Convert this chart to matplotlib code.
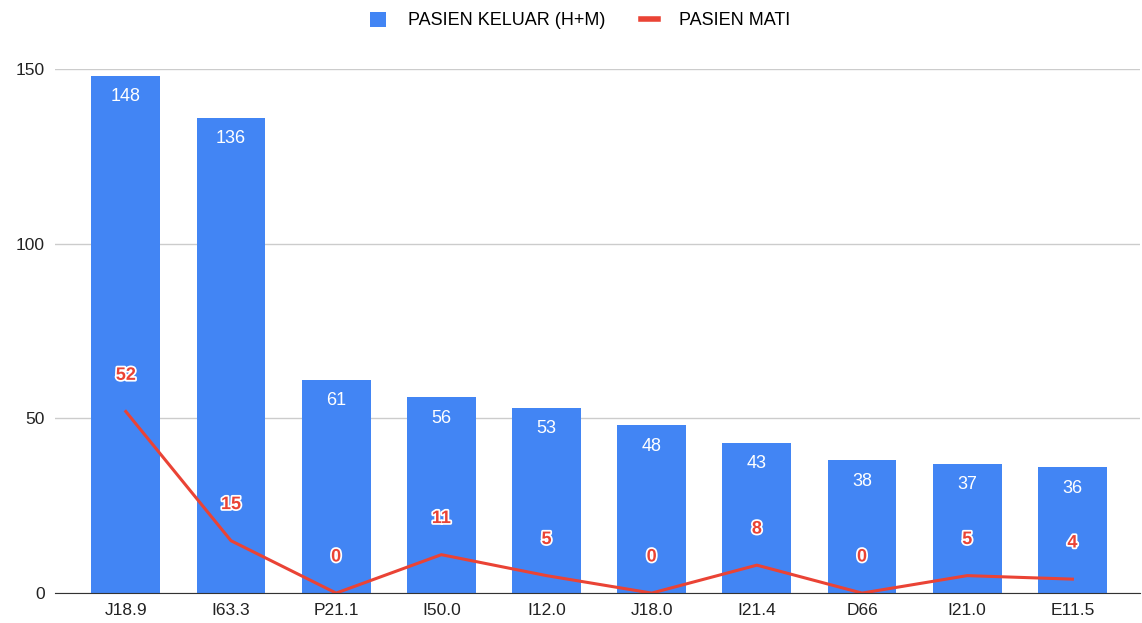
import matplotlib.pyplot as plt
import matplotlib.patheffects as pe
from matplotlib.lines import Line2D
from matplotlib.patches import Patch

plt.rcParams['font.family'] = ['Liberation Sans', 'DejaVu Sans']

kode = ['J18.9', 'I63.3', 'P21.1', 'I50.0', 'I12.0', 'J18.0', 'I21.4', 'D66', 'I21.0', 'E11.5']
keluar = [148, 136, 61, 56, 53, 48, 43, 38, 37, 36]
mati = [52, 15, 0, 11, 5, 0, 8, 0, 5, 4]

blue = '#4285F4'
red = '#EA4335'

fig = plt.figure(figsize=(11.42, 6.23), dpi=100)
ax = fig.add_axes([0.048, 0.048, 0.95, 0.841])

x = list(range(len(kode)))
ax.bar(x, keluar, width=0.655, color=blue, zorder=2)
ax.plot(x, mati, color=red, linewidth=2.2, zorder=3)

for xi, v in zip(x, keluar):
    ax.annotate(str(v), (xi, v), xytext=(0, -15), textcoords='offset points',
                ha='center', va='center', color='white', fontsize=13, zorder=4)

for xi, v in zip(x, mati):
    ax.annotate(str(v), (xi, v), xytext=(0, 26), textcoords='offset points',
                ha='center', va='center', color=red, fontsize=13, fontweight='bold',
                zorder=5, path_effects=[pe.withStroke(linewidth=2.5, foreground='white')])

ax.set_xlim(-0.675, 9.64)
ax.set_ylim(0, 150)
ax.set_yticks([0, 50, 100, 150])
ax.set_xticks(x)
ax.set_xticklabels(kode)
ax.tick_params(axis='both', length=0, labelsize=12.5, labelcolor='#222222')
ax.tick_params(axis='x', pad=7)
ax.tick_params(axis='y', pad=7)
ax.grid(axis='y', color='#cccccc', linewidth=1, zorder=0)
for s in ['top', 'right', 'left']:
    ax.spines[s].set_visible(False)
ax.spines['bottom'].set_color('#333333')
ax.spines['bottom'].set_zorder(3)

handles = [Patch(facecolor=blue, label='PASIEN KELUAR (H+M)'),
           Line2D([0], [0], color=red, linewidth=4, label='PASIEN MATI')]
fig.legend(handles=handles, loc='center', bbox_to_anchor=(0.508, 0.967), ncol=2,
           frameon=False, fontsize=13, handlelength=0.9, handleheight=0.9,
           columnspacing=2.0, handletextpad=1.2)

fig.savefig('out.png', dpi=100)
